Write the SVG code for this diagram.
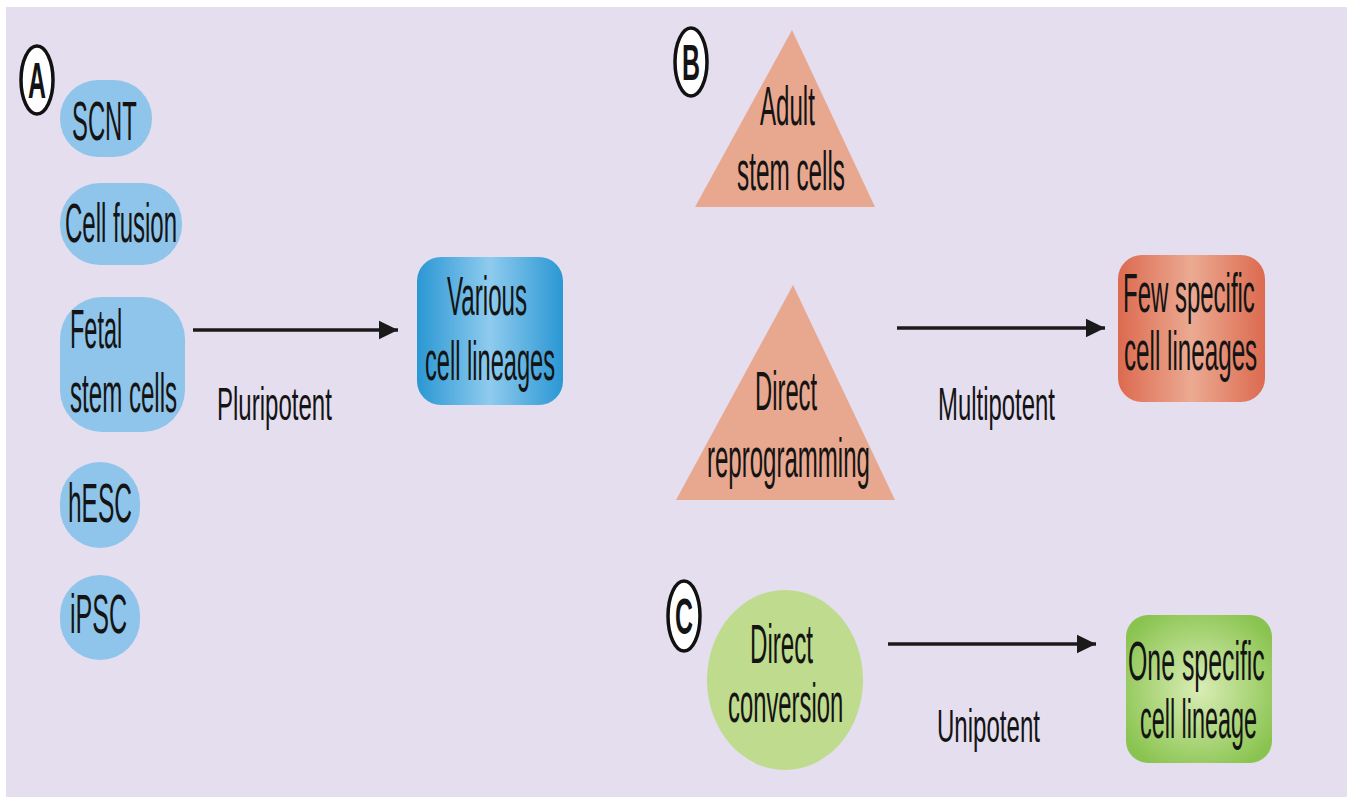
<svg xmlns="http://www.w3.org/2000/svg" width="1352" height="798" viewBox="0 0 1352 798">
<style>
text{font-family:"Liberation Sans",Arial,sans-serif;fill:#141414}
.n{font-size:55px}
.l{font-size:46px}
.pill{fill:#8FC5EA}
.tri{fill:#E8A88F}
.lab{fill:#fff;stroke:#111;stroke-width:3.5}
.lt{font-size:50px;font-weight:bold;text-anchor:middle}
.conn line{stroke:#1a1a1a;stroke-width:3.5}
</style>
<defs>
<marker id="ah" markerWidth="6" markerHeight="6" refX="5.5" refY="3" orient="auto" markerUnits="strokeWidth">
<path d="M0,0.3 L5.5,3 L0,5.7 Z" fill="#1a1a1a"/>
</marker>
<linearGradient id="gBlue" x1="0" y1="0" x2="1" y2="0">
<stop offset="0" stop-color="#2A97D4"/><stop offset="0.5" stop-color="#8FCBEE"/><stop offset="1" stop-color="#2A97D4"/>
</linearGradient>
<linearGradient id="gRed" x1="0" y1="0" x2="1" y2="0">
<stop offset="0" stop-color="#DC6A4F"/><stop offset="0.5" stop-color="#EBAA92"/><stop offset="1" stop-color="#DC6A4F"/>
</linearGradient>
<radialGradient id="gGreen" cx="0.5" cy="0.5" r="0.6">
<stop offset="0" stop-color="#DAEDB6"/><stop offset="1" stop-color="#8AC450"/>
</radialGradient>
</defs>
<rect x="0" y="0" width="1352" height="798" fill="#fff"/>
<rect x="6" y="7" width="1341" height="790" fill="#E5DEEF"/>

<g id="labelA"><ellipse class="lab" cx="37" cy="80" rx="16" ry="34"/><text class="lt" transform="translate(37,98) scale(0.5,1)" textLength="36" lengthAdjust="spacingAndGlyphs">A</text></g>
<g id="labelB"><ellipse class="lab" cx="691" cy="62" rx="16" ry="34"/><text class="lt" transform="translate(691,80) scale(0.5,1)" textLength="36" lengthAdjust="spacingAndGlyphs">B</text></g>
<g id="labelC"><ellipse class="lab" cx="684" cy="616" rx="16" ry="35"/><text class="lt" transform="translate(684,634) scale(0.5,1)" textLength="36" lengthAdjust="spacingAndGlyphs">C</text></g>

<g id="scnt"><rect class="pill" x="60" y="80" width="92" height="77" rx="38"/><text class="n" transform="translate(72,140) scale(0.45,1)" textLength="144" lengthAdjust="spacingAndGlyphs">SCNT</text></g>
<g id="cellfusion"><rect class="pill" x="60" y="183" width="122" height="82" rx="40"/><text class="n" transform="translate(65,242) scale(0.45,1)" textLength="249" lengthAdjust="spacingAndGlyphs">Cell fusion</text></g>
<g id="fetal"><rect class="pill" x="60" y="297" width="125" height="135" rx="42"/><text class="n" transform="translate(70,348) scale(0.45,1)" textLength="116" lengthAdjust="spacingAndGlyphs">Fetal</text><text class="n" transform="translate(70,412) scale(0.45,1)" textLength="238" lengthAdjust="spacingAndGlyphs">stem cells</text></g>
<g id="hesc"><rect class="pill" x="60" y="462" width="80" height="86" rx="40"/><text class="n" transform="translate(68,522) scale(0.45,1)" textLength="142" lengthAdjust="spacingAndGlyphs">hESC</text></g>
<g id="ipsc"><rect class="pill" x="60" y="575" width="80" height="85" rx="40"/><text class="n" transform="translate(70,633) scale(0.45,1)" textLength="127" lengthAdjust="spacingAndGlyphs">iPSC</text></g>

<g id="various"><rect x="417" y="257" width="146" height="148" rx="24" fill="url(#gBlue)"/><text class="n" transform="translate(447,315) scale(0.45,1)" textLength="178" lengthAdjust="spacingAndGlyphs">Various</text><text class="n" transform="translate(425,380) scale(0.45,1)" textLength="289" lengthAdjust="spacingAndGlyphs">cell lineages</text></g>

<g id="adult"><polygon class="tri" points="792,30 875,207 695,207"/><text class="n" transform="translate(760,125) scale(0.45,1)" textLength="122" lengthAdjust="spacingAndGlyphs">Adult</text><text class="n" transform="translate(737,190) scale(0.45,1)" textLength="240" lengthAdjust="spacingAndGlyphs">stem cells</text></g>
<g id="directrep"><polygon class="tri" points="793,285 895,500 676,500"/><text class="n" transform="translate(755,410) scale(0.45,1)" textLength="138" lengthAdjust="spacingAndGlyphs">Direct</text><text class="n" transform="translate(707,477) scale(0.45,1)" textLength="362" lengthAdjust="spacingAndGlyphs">reprogramming</text></g>

<g id="few"><rect x="1118" y="255" width="147" height="147" rx="24" fill="url(#gRed)"/><text class="n" transform="translate(1123,312) scale(0.45,1)" textLength="293" lengthAdjust="spacingAndGlyphs">Few specific</text><text class="n" transform="translate(1124,370) scale(0.45,1)" textLength="296" lengthAdjust="spacingAndGlyphs">cell lineages</text></g>

<g id="directconv"><ellipse cx="785" cy="680" rx="78" ry="90" fill="#BEDB8E"/><text class="n" transform="translate(750,663) scale(0.45,1)" textLength="140" lengthAdjust="spacingAndGlyphs">Direct</text><text class="n" transform="translate(728,722) scale(0.45,1)" textLength="256" lengthAdjust="spacingAndGlyphs">conversion</text></g>

<g id="one"><rect x="1126" y="615" width="146" height="148" rx="22" fill="url(#gGreen)"/><text class="n" transform="translate(1128,680) scale(0.45,1)" textLength="304" lengthAdjust="spacingAndGlyphs">One specific</text><text class="n" transform="translate(1140,738) scale(0.45,1)" textLength="260" lengthAdjust="spacingAndGlyphs">cell lineage</text></g>

<g id="connectors" class="conn">
<line x1="193" y1="330" x2="398" y2="330" marker-end="url(#ah)"/>
<line x1="897" y1="328" x2="1105" y2="328" marker-end="url(#ah)"/>
<line x1="888" y1="644" x2="1096" y2="644" marker-end="url(#ah)"/>
</g>
<g id="edgelabels">
<text class="l" transform="translate(217,420) scale(0.52,1)" textLength="221" lengthAdjust="spacingAndGlyphs">Pluripotent</text>
<text class="l" transform="translate(938,420) scale(0.52,1)" textLength="225" lengthAdjust="spacingAndGlyphs">Multipotent</text>
<text class="l" transform="translate(937,742) scale(0.52,1)" textLength="198" lengthAdjust="spacingAndGlyphs">Unipotent</text>
</g>
</svg>
